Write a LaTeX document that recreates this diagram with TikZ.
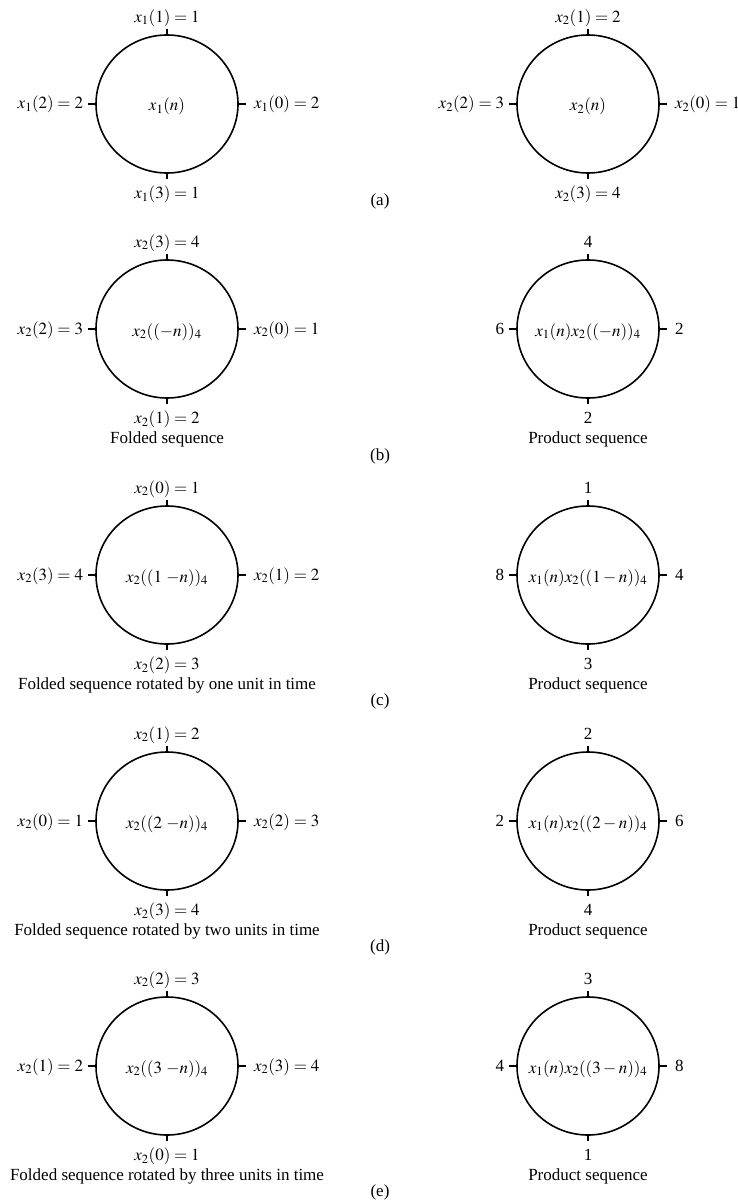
\documentclass[tikz,border=0pt]{standalone}
\usepackage{mathptmx}
\usepackage[no-math]{fontspec}
\setmainfont{Liberation Serif}
\usetikzlibrary{shapes.geometric,calc}
\tikzset{
  circ/.style={draw, ellipse, minimum width=142pt, minimum height=138pt, inner sep=0pt, line width=1.6pt},
  tickmark/.style={line width=1.4pt},
  lab/.style={inner sep=0pt, font=\fontsize{17}{20}\selectfont},
}
\newcommand{\seqcirc}[8]{%
  \node[circ] (#1) at (#2,#3) {};
  \node[lab,anchor=base] (#1-c) at ($(#1.center)+(0,7)$) {#4};
  \draw[tickmark] (#1.north) -- ++(0,-5);
  \draw[tickmark] (#1.south) -- ++(0,5);
  \draw[tickmark] (#1.west) -- ++(-7,0);
  \draw[tickmark] (#1.east) -- ++(7,0);
  \node[lab,anchor=base] (#1-t) at ($(#1.north)+(0,-12)$) {#5};
  \node[lab,anchor=base east] (#1-l) at ($(#1.west)+(-12,5)$) {#6};
  \node[lab,anchor=base west] (#1-r) at ($(#1.east)+(15,5)$) {#7};
  \node[lab,anchor=base] (#1-b) at ($(#1.south)+(0,25)$) {#8};
}
\begin{document}
\begin{tikzpicture}[x=1pt,y=-1pt]
\useasboundingbox[fill=white] (0,0) rectangle (738,1201);
% row (a)
\seqcirc{a1}{167}{104}{$x_1(n)$}{$x_1(1) = 1$}{$x_1(2) = 2$}{$x_1(0) = 2$}{$x_1(3) = 1$}
\seqcirc{a2}{588}{104}{$x_2(n)$}{$x_2(1) = 2$}{$x_2(2) = 3$}{$x_2(0) = 1$}{$x_2(3) = 4$}
\node[lab,anchor=base] (la) at (380,205) {(a)};
% row (b)
\seqcirc{b1}{167}{329}{$x_2((-n))_4$}{$x_2(3) = 4$}{$x_2(2) = 3$}{$x_2(0) = 1$}{$x_2(1) = 2$}
\seqcirc{b2}{588}{329}{$x_1(n)x_2((-n))_4$}{4}{6}{2}{2}
\node[lab,anchor=base] (b1-cap) at ($(b1.south)+(0,45)$) {Folded sequence};
\node[lab,anchor=base] (b2-cap) at ($(b2.south)+(0,45)$) {Product sequence};
\node[lab,anchor=base] (lb) at (380,460) {(b)};
% row (c)
\seqcirc{c1}{167}{575}{$x_2((1\ {-}n))_4$}{$x_2(0) = 1$}{$x_2(3) = 4$}{$x_2(1) = 2$}{$x_2(2) = 3$}
\seqcirc{c2}{588}{575}{$x_1(n)x_2((1-n))_4$}{1}{8}{4}{3}
\node[lab,anchor=base] (c1-cap) at ($(c1.south)+(0,45)$) {Folded sequence rotated by one unit in time};
\node[lab,anchor=base] (c2-cap) at ($(c2.south)+(0,45)$) {Product sequence};
\node[lab,anchor=base] (lc) at (380,705) {(c)};
% row (d)
\seqcirc{d1}{167}{821}{$x_2((2\ {-}n))_4$}{$x_2(1) = 2$}{$x_2(0) = 1$}{$x_2(2) = 3$}{$x_2(3) = 4$}
\seqcirc{d2}{588}{821}{$x_1(n)x_2((2-n))_4$}{2}{2}{6}{4}
\node[lab,anchor=base] (d1-cap) at ($(d1.south)+(0,45)$) {Folded sequence rotated by two units in time};
\node[lab,anchor=base] (d2-cap) at ($(d2.south)+(0,45)$) {Product sequence};
\node[lab,anchor=base] (ld) at (380,951) {(d)};
% row (e)
\seqcirc{e1}{167}{1066}{$x_2((3\ {-}n))_4$}{$x_2(2) = 3$}{$x_2(1) = 2$}{$x_2(3) = 4$}{$x_2(0) = 1$}
\seqcirc{e2}{588}{1066}{$x_1(n)x_2((3-n))_4$}{3}{4}{8}{1}
\node[lab,anchor=base] (e1-cap) at ($(e1.south)+(0,45)$) {Folded sequence rotated by three units in time};
\node[lab,anchor=base] (e2-cap) at ($(e2.south)+(0,45)$) {Product sequence};
\node[lab,anchor=base] (le) at (380,1196) {(e)};
\end{tikzpicture}
\end{document}
